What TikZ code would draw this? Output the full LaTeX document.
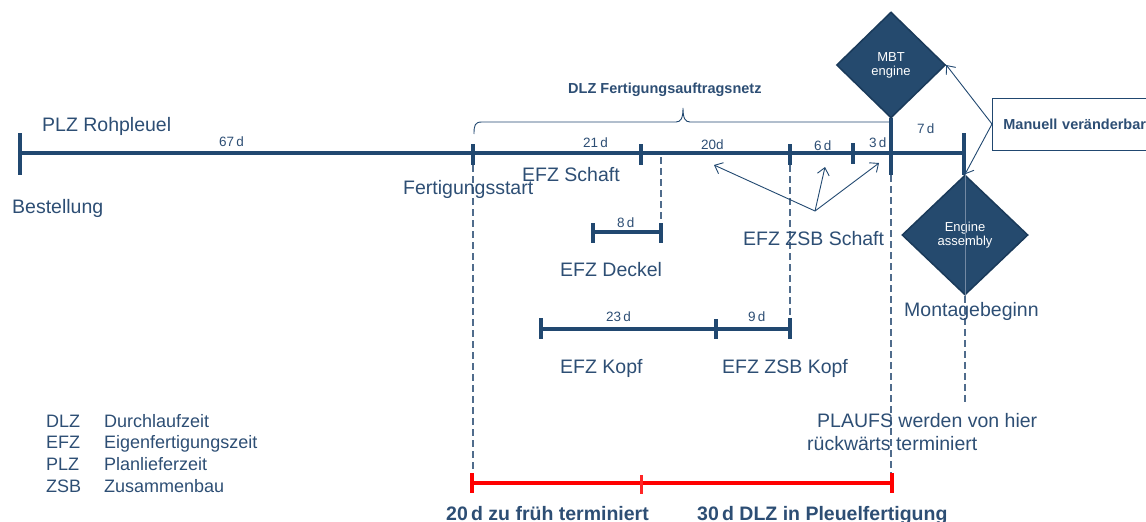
\documentclass[tikz,border=0pt]{standalone}
\usepackage{fontspec}
\setmainfont{Liberation Sans}
\usetikzlibrary{shapes.geometric,arrows.meta}
\definecolor{lineblue}{RGB}{33,72,112}
\definecolor{textblue}{RGB}{45,78,116}
\definecolor{dashblue}{RGB}{80,108,140}
\definecolor{dfill}{RGB}{37,74,110}
\definecolor{dborder}{RGB}{26,58,90}
\begin{document}
\begin{tikzpicture}[x=1pt,y=-1pt,
  mainline/.style={draw=lineblue,line width=4pt},
  tickm/.style={draw=lineblue,line width=3.6pt},
  subline/.style={draw=lineblue,line width=3.2pt},
  redline/.style={draw=red,line width=4pt},
  dsh/.style={draw=dashblue,line width=1.1pt,dash pattern=on 7pt off 4pt},
  arr/.style={draw=lineblue,line width=0.9pt,-{Straight Barb[length=7pt,width=12pt,line width=0.9pt]}},
  lbl/.style={text=textblue,font=\fontsize{19.5}{22}\selectfont,inner sep=0pt,anchor=base west},
  sm/.style={text=textblue,font=\fontsize{13.5}{15}\selectfont,inner sep=0pt,anchor=base west},
  leg/.style={text=textblue,font=\fontsize{18}{20}\selectfont,inner sep=0pt,anchor=base west},
  bold/.style={text=textblue,font=\bfseries\fontsize{14.5}{17}\selectfont,inner sep=0pt,anchor=base west},
  redlbl/.style={text=textblue,font=\bfseries\fontsize{19.5}{22}\selectfont,inner sep=0pt,anchor=base west},
  dia/.style={diamond,draw=dborder,fill=dfill,line width=1.5pt,text=white,
    font=\fontsize{13}{14}\selectfont,align=center,inner sep=0pt}
]
\useasboundingbox (0,0) rectangle (1146,522);
\clip (0,0) rectangle (1146,522);

% dashed guide lines
\draw[dsh] (473,165) -- (473,473);
\draw[dsh] (661,157) -- (661,223);
\draw[dsh] (790,165) -- (790,318);
\draw[dsh] (891,175) -- (891,473);

% main time line
\draw[mainline] (20,153) -- (964,153);
\draw[tickm] (20,133) -- (20,175);
\draw[tickm] (473,144) -- (473,165);
\draw[tickm] (641,144) -- (641,165);
\draw[tickm] (790,144) -- (790,165);
\draw[tickm] (853,143) -- (853,164);
\draw[tickm] (891,118) -- (891,175);
\draw[tickm] (964,133) -- (964,175);

% brace
\draw[draw=lineblue,line width=0.9pt]
  (474,134) .. controls (474,125) and (475,122) .. (482,122) -- (676,122)
  .. controls (681,122) and (683,118) .. (683,108)
  .. controls (683,118) and (685,122) .. (690,122) -- (891,122);
\node[bold] (dlzfa) at (568,93) {DLZ Fertigungsauftragsnetz};

% diamonds
\node[dia,minimum width=109pt,minimum height=106pt] (mbt) at (891,65) {MBT\\engine};
\node[dia,minimum width=126pt,minimum height=120pt] (ea) at (965,235) {Engine\\assembly};
\draw[draw=dashblue!80!white,line width=0.8pt] (ea.north) -- (ea.south);
\draw[dsh] (ea.south) -- (965,402);

% Manuell box
\node[draw=lineblue,line width=0.8pt,anchor=west,minimum height=52pt,
  inner xsep=11pt,text width=180pt,align=left,text=textblue,
  font=\bfseries\fontsize{14.5}{17}\selectfont] (mv) at (992,124) {Manuell veränderbar};
\draw[arr] (mv.west) -- (mbt.east);
\draw[arr] (mv.west) -- (ea.north);

% sub bars
\draw[subline] (593,232) -- (661,232);
\draw[tickm] (593,223) -- (593,243);
\draw[tickm] (661,223) -- (661,243);
\draw[subline] (541,329) -- (790,329);
\draw[tickm] (541,318) -- (541,339);
\draw[tickm] (716,319) -- (716,339);
\draw[tickm] (790,318) -- (790,339);

% arrows to ZSB Schaft segments
\coordinate (conv) at (815,211);
\coordinate (a20) at (714,165);
\coordinate (a6) at (825,167);
\coordinate (a3) at (879,163);
\draw[arr] (conv) -- (a20);
\draw[arr] (conv) -- (a6);
\draw[arr] (conv) -- (a3);

% labels
\node[lbl] (plz) at (42,131) {PLZ Rohpleuel};
\node[sm] (d67) at (219,146) {67\,d};
\node[lbl] (best) at (12,213) {Bestellung};
\node[lbl] (fst) at (403,194) {Fertigungsstart};
\node[lbl] (efzs) at (522,181) {EFZ Schaft};
\node[sm] (d21) at (583,147) {21\,d};
\node[sm] (d20) at (701,149) {20d};
\node[sm] (d6) at (814,150) {6\,d};
\node[sm] (d3) at (869,147) {3\,d};
\node[sm] (d7) at (917,133) {7\,d};
\node[sm] (d8) at (617,227) {8\,d};
\node[lbl] (efzd) at (560,276) {EFZ Deckel};
\node[lbl] (efzzs) at (743,245) {EFZ ZSB Schaft};
\node[sm] (d23) at (606,321) {23\,d};
\node[sm] (d9) at (748,321) {9\,d};
\node[lbl] (efzk) at (560,373) {EFZ Kopf};
\node[lbl] (efzzk) at (722,373) {EFZ ZSB Kopf};
\node[lbl] (mont) at (904,316) {Montagebeginn};
\node[lbl] (pl1) at (817,427) {PLAUFS werden von hier};
\node[lbl] (pl2) at (807,450) {rückwärts terminiert};

% legend
\node[leg] (l1a) at (46,427) {DLZ};
\node[leg] (l1b) at (104,427) {Durchlaufzeit};
\node[leg] (l2a) at (46,448) {EFZ};
\node[leg] (l2b) at (104,448) {Eigenfertigungszeit};
\node[leg] (l3a) at (46,470) {PLZ};
\node[leg] (l3b) at (104,470) {Planlieferzeit};
\node[leg] (l4a) at (46,492) {ZSB};
\node[leg] (l4b) at (104,492) {Zusammenbau};

% red bar
\draw[redline] (472,483) -- (892,483);
\draw[redline] (472,473) -- (472,493);
\draw[draw=red!85!white,line width=3pt] (641,475) -- (641,494);
\draw[redline] (892,473) -- (892,493);
\node[redlbl] (r1) at (446,520) {20\,d zu früh terminiert};
\node[redlbl] (r2) at (697,520) {30\,d DLZ in Pleuelfertigung};
\end{tikzpicture}
\end{document}
